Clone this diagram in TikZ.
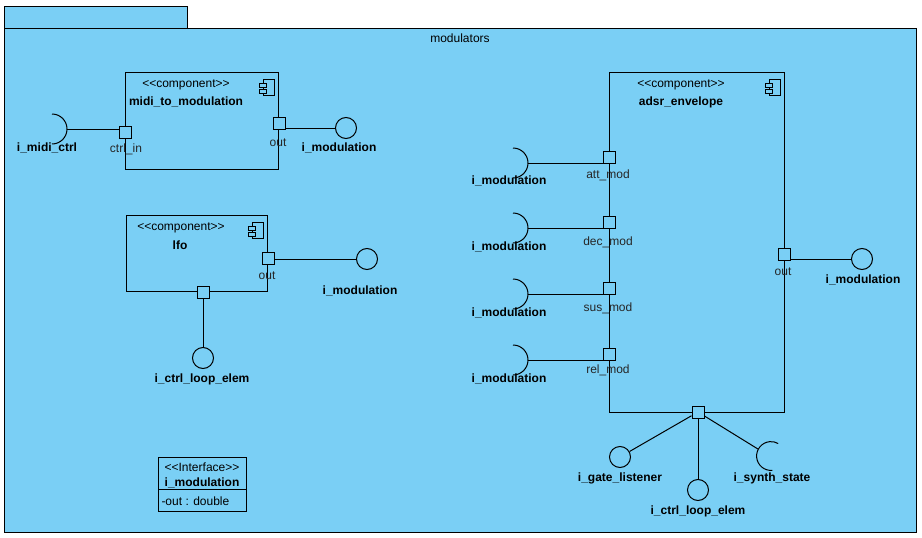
\documentclass[tikz,border=0pt]{standalone}
\usepackage{fontspec}
\newfontfamily\umlfont{Liberation Sans}
\usepackage{tikz}
\usetikzlibrary{positioning}

\definecolor{pkgblue}{RGB}{122,207,245}

\tikzset{
    compicon/.pic={
        \draw[fill=pkgblue] (0,0) rectangle (11,16);
        \draw[fill=pkgblue] (-4,4) rectangle (3,8);
        \draw[fill=pkgblue] (-4,10) rectangle (3,14);
    },
    socket/.pic={
        \draw (-15,-15) arc[start angle=-90, end angle=90, radius=15];
    }
}

\begin{document}
\begin{tikzpicture}[
        x=1pt, y=-1pt, line width=1pt,
        every node/.style={font=\umlfont\fontsize{12}{14}\selectfont, inner sep=0pt},
        pkg/.style={draw, fill=pkgblue, rectangle, anchor=north west},
        comp/.style={draw, fill=pkgblue, rectangle, anchor=north west},
        port/.style={draw, fill=pkgblue, rectangle, minimum size=12pt},
        prov/.style={draw, circle, minimum size=21pt},
        bold/.style={font=\umlfont\bfseries\fontsize{12}{14}\selectfont},
        plabel/.style={text=black!85}
    ]
    \useasboundingbox (0,0) rectangle (922,538);

    \node[pkg, minimum width=183pt, minimum height=22pt] (modtab) at (4,6) {};
    \node[pkg, minimum width=912pt, minimum height=504pt] (modulators) at (4,28) {};
    \node (modname) at (460,38) {modulators};

    % midi_to_modulation
    \node[comp, minimum width=153pt, minimum height=97pt] (mtm) at (125,72) {};
    \pic at ([shift={(-16,7)}]mtm.north east) {compicon};
    \node (mtmst) at (186,85) {<<component>>};
    \node[bold] (mtmname) at (186,102) {midi\_to\_modulation};
    \node[port] (mtmin) at (125,132) {};
    \node[port] (mtmout) at (279,123) {};
    \node[plabel] (mtminlbl) at (126,149) {ctrl\_in};
    \node[plabel] (mtmoutlbl) at (278,143) {out};

    \coordinate (midireq) at (67,129);
    \pic at (midireq) {socket};
    \node[bold] (midictrl) at (47,148) {i\_midi\_ctrl};
    \node[prov] (mtmprov) at (346,128) {};
    \node[bold] (mtmprovlbl) at (339,148) {i\_modulation};

    \draw (midireq) -- (midireq -| mtmin.west);
    \draw (mtmout.east |- mtmprov) -- (mtmprov);

    % lfo
    \node[comp, minimum width=141pt, minimum height=76pt] (lfo) at (126,215) {};
    \pic at ([shift={(-16,7)}]lfo.north east) {compicon};
    \node (lfost) at (181,228) {<<component>>};
    \node[bold] (lfoname) at (180,245) {lfo};
    \node[port] (lfoout) at (268,258) {};
    \node[port] (lfobot) at (203,292) {};
    \node[plabel] (lfooutlbl) at (267,276) {out};

    \node[prov] (lfoprov) at (367,259) {};
    \node[bold] (lfoprovlbl) at (360,291) {i\_modulation};
    \node[prov] (lfoloop) at (203,358) {};
    \node[bold] (lfolooplbl) at (202,379) {i\_ctrl\_loop\_elem};

    \draw (lfoout.east |- lfoprov) -- (lfoprov);
    \draw (lfobot) -- (lfoloop);

    % interface
    \node[draw, anchor=north west, minimum width=88pt, minimum height=54pt] (ifmod) at (158,457) {};
    \coordinate (ifsep) at (0,489);
    \draw (ifmod.west |- ifsep) -- (ifmod.east |- ifsep);
    \node (ifst) at (202,467) {<<Interface>>};
    \node[bold] (ifname) at (202,483) {i\_modulation};
    \node[anchor=west] (ifattr) at (161,501) {-out : double};

    % adsr_envelope
    \node[comp, minimum width=175pt, minimum height=340pt] (adsr) at (609,72) {};
    \pic at ([shift={(-16,7)}]adsr.north east) {compicon};
    \node (adsrst) at (681,85) {<<component>>};
    \node[bold] (adsrname) at (681,102) {adsr\_envelope};

    \node[port] (adsratt) at (609,157) {};
    \node[port] (adsrdec) at (609,222) {};
    \node[port] (adsrsus) at (609,288) {};
    \node[port] (adsrrel) at (609,354) {};
    \node[port] (adsrout) at (784,254) {};
    \node[port] (adsrbot) at (698,412) {};

    \node[plabel] (attlbl) at (608,175) {att\_mod};
    \node[plabel] (declbl) at (608,242) {dec\_mod};
    \node[plabel] (suslbl) at (608,308) {sus\_mod};
    \node[plabel] (rellbl) at (608,370) {rel\_mod};
    \node[plabel] (adsroutlbl) at (783,272) {out};

    \coordinate (attreq) at (528,163);
    \coordinate (decreq) at (528,228);
    \coordinate (susreq) at (528,294);
    \coordinate (relreq) at (528,360);
    \pic at (attreq) {socket};
    \pic at (decreq) {socket};
    \pic at (susreq) {socket};
    \pic at (relreq) {socket};
    \node[bold] (attif) at (509,181) {i\_modulation};
    \node[bold] (decif) at (509,247) {i\_modulation};
    \node[bold] (susif) at (509,313) {i\_modulation};
    \node[bold] (relif) at (509,379) {i\_modulation};

    \draw (attreq) -- (attreq -| adsratt.west);
    \draw (decreq) -- (decreq -| adsrdec.west);
    \draw (susreq) -- (susreq -| adsrsus.west);
    \draw (relreq) -- (relreq -| adsrrel.west);

    \node[prov] (adsrprov) at (862,259) {};
    \node[bold] (adsrprovlbl) at (863,280) {i\_modulation};
    \draw (adsrout.east |- adsrprov) -- (adsrprov);

    \node[prov] (gatecirc) at (620,457) {};
    \node[bold] (gatelbl) at (620,478) {i\_gate\_listener};
    \node[prov] (adsrloop) at (698,490) {};
    \node[bold] (adsrlooplbl) at (698,511) {i\_ctrl\_loop\_elem};
    \coordinate (synthc) at (771,456);
    \path (synthc) ++(208:14.4) coordinate (synthreq);
    \draw (synthc) ++(85:14.4) arc[start angle=85, end angle=300, radius=14.4];
    \node[bold] (synthlbl) at (772,478) {i\_synth\_state};

    \draw (adsrbot) -- (gatecirc);
    \draw (adsrbot) -- (adsrloop);
    \draw (adsrbot) -- (synthreq);
\end{tikzpicture}
\end{document}
